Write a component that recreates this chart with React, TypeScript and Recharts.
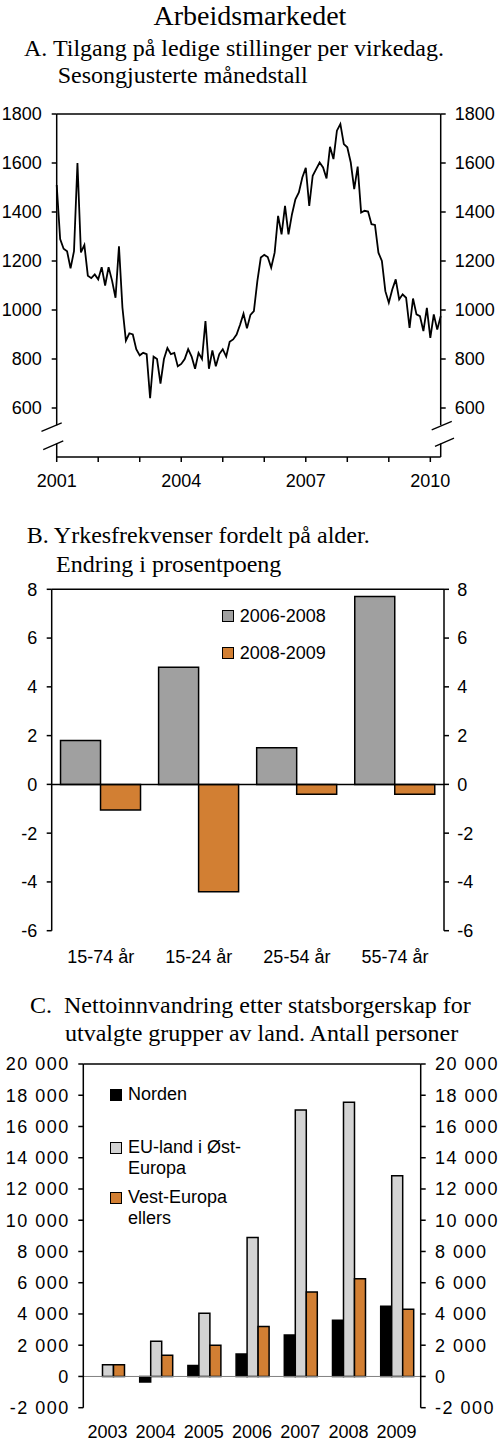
import React from "react"
import { Bar, BarChart, Legend, Line, LineChart, ReferenceLine, XAxis, YAxis } from "recharts"

// A. Tilgang på ledige stillinger per virkedag, jan 2001 - apr 2010
const stillinger = [
  1510, 1290, 1250, 1240, 1170, 1240, 1600, 1235, 1265, 1140, 1130, 1145,
  1125, 1175, 1100, 1175, 1120, 1050, 1260, 1010, 875, 905, 900, 840,
  815, 825, 820, 640, 810, 800, 700, 800, 845, 820, 825, 770,
  780, 800, 840, 810, 760, 825, 800, 955, 760, 835, 770, 820,
  840, 810, 870, 880, 900, 940, 985, 925, 980, 995, 1118, 1214,
  1225, 1216, 1173, 1234, 1384, 1309, 1425, 1309, 1390, 1452, 1480, 1541,
  1580, 1425, 1548, 1575, 1602, 1582, 1537, 1666, 1616, 1732, 1759, 1677,
  1664, 1602, 1493, 1585, 1398, 1405, 1402, 1350, 1347, 1234, 1200, 1077,
  1030, 1084, 1125, 1043, 1064, 1050, 927, 1047, 982, 975, 914, 1009,
  886, 982, 920, 975,
]
const maanedTicks = [0, 12, 24, 36, 48, 60, 72, 84, 96, 108]
const maanedLabels = ["2001", "", "", "2004", "", "", "2007", "", "", "2010"]
const tilgangTicks = [600, 800, 1000, 1200, 1400, 1600, 1800]

// B. Yrkesfrekvenser fordelt på alder
const alder = ["15-74 år", "15-24 år", "25-54 år", "55-74 år"]
const endring0608 = [1.8, 4.8, 1.5, 7.7]
const endring0809 = [-1.05, -4.4, -0.4, -0.4]
const prosentTicks = [-6, -4, -2, 0, 2, 4, 6, 8]
const periodeNavn = ["2006-2008", "2008-2009"]

// C. Nettoinnvandring etter statsborgerskap
const aar = ["2003", "2004", "2005", "2006", "2007", "2008", "2009"]
const norden = [0, -350, 700, 1430, 2650, 3600, 4500]
const euOst = [750, 2250, 4050, 8900, 17050, 17550, 12850]
const vestEuropa = [750, 1350, 2000, 3200, 5400, 6250, 4300]
const personTicks = [-2000, 0, 2000, 4000, 6000, 8000, 10000, 12000, 14000, 16000, 18000, 20000]
const gruppeNavn = ["Norden", "EU-land i Øst-Europa", "Vest-Europa ellers"]

const tilgangData = stillinger.map((v, i) => ({ t: i, v }))
const alderData = alder.map((a, i) => ({ alder: a, p1: endring0608[i], p2: endring0809[i] }))
const innvData = aar.map((a, i) => ({ aar: a, norden: norden[i], eu: euOst[i], vest: vestEuropa[i] }))

const sans = "'Liberation Sans', Arial, sans-serif"
const serif = "'Liberation Serif', 'Times New Roman', serif"
const tickStyle = { fill: "#000", fontSize: 18, fontFamily: sans }
const bredTick = { ...tickStyle, letterSpacing: 1.5 }
const GRA = "#a0a0a0"
const LYSGRA = "#d3d3d3"
const ORANSJE = "#d27f33"

const tusen = (v: number) => {
  const a = Math.abs(v)
  const s = a >= 1000 ? `${Math.floor(a / 1000)} ${String(a % 1000).padStart(3, "0")}` : String(a)
  return v < 0 ? `-${s}` : s
}

function Tittel({ left, baseline, size = 24, children, center = false }: any) {
  return (
    <div
      style={{
        position: "absolute",
        left: center ? 0 : left,
        width: center ? 500 : undefined,
        textAlign: center ? "center" : "left",
        top: baseline - size * 0.838,
        fontFamily: serif,
        fontSize: size,
        lineHeight: `${size}px`,
        whiteSpace: "pre",
        color: "#000",
      }}
    >
      {children}
    </div>
  )
}

function Forklaring({ payload, order, gaps, textWidth, squareTop }: any) {
  const items = [...(payload || [])].sort((a: any, b: any) => order.indexOf(a.value) - order.indexOf(b.value))
  return (
    <div style={{ position: "absolute", left: 0, top: 0, width: textWidth + 20, fontFamily: sans, fontSize: 18, color: "#000" }}>
      {items.map((p: any, i: number) => (
        <div key={p.value} style={{ display: "flex", alignItems: "flex-start", marginBottom: gaps[i] || 0 }}>
          <span
            style={{
              display: "inline-block",
              width: 12,
              height: 12,
              boxSizing: "border-box",
              border: "1.5px solid #000",
              background: p.color,
              marginTop: squareTop,
              marginRight: 6,
              flex: "none",
            }}
          />
          <span style={{ lineHeight: "21px", width: textWidth }}>{p.value}</span>
        </div>
      ))}
    </div>
  )
}

// axis break marks for panel A, in data units (month index, value)
const bruddVenstre = [
  [{ x: -4.4, y: 505 }, { x: 1.45, y: 539 }],
  [{ x: -3.9, y: 430 }, { x: 1.9, y: 466 }],
]
const bruddHoyre = [
  [{ x: 108.4, y: 511 }, { x: 114.2, y: 545 }],
  [{ x: 109.35, y: 443 }, { x: 114.85, y: 477 }],
]

export default function App() {
  return (
    <div style={{ position: "absolute", left: 0, top: 0, width: 500, height: 1445, background: "#fff", overflow: "hidden" }}>
      <Tittel center baseline={25} size={28}>Arbeidsmarkedet</Tittel>

      <Tittel left={24} baseline={56}>A. Tilgang på ledige stillinger per virkedag.</Tittel>
      <Tittel left={57.7} baseline={83.3}>Sesongjusterte månedstall</Tittel>

      <div style={{ position: "absolute", left: 0, top: 100 }}>
        <LineChart width={500} height={400} data={tilgangData} margin={{ top: 14, right: 0, bottom: 0, left: 0 }}>
          <XAxis
            dataKey="t"
            type="number"
            domain={[0, 111]}
            ticks={maanedTicks}
            interval={0}
            tickFormatter={(v) => maanedLabels[maanedTicks.indexOf(v)] ?? ""}
            tick={tickStyle}
            tickSize={5}
            tickMargin={12}
            height={43}
            stroke="#000"
            strokeWidth={1.5}
          />
          <YAxis
            yAxisId="v"
            domain={[400, 1800]}
            ticks={tilgangTicks}
            interval={0}
            width={56.7}
            tick={tickStyle}
            tickSize={5}
            tickMargin={10}
            axisLine={false}
            tickLine={{ stroke: "#000", strokeWidth: 1.5 }}
            allowDataOverflow
          />
          <YAxis
            yAxisId="h"
            orientation="right"
            domain={[400, 1800]}
            ticks={tilgangTicks}
            interval={0}
            width={59.3}
            tick={tickStyle}
            tickSize={5}
            tickMargin={9}
            axisLine={false}
            tickLine={{ stroke: "#000", strokeWidth: 1.5 }}
            allowDataOverflow
          />
          <ReferenceLine yAxisId="v" y={1800} stroke="#000" strokeWidth={1.5} />
          <ReferenceLine yAxisId="v" segment={[{ x: 0, y: 1800 }, { x: 0, y: 530 }]} stroke="#000" strokeWidth={1.5} ifOverflow="visible" />
          <ReferenceLine yAxisId="v" segment={[{ x: 0, y: 455 }, { x: 0, y: 400 }]} stroke="#000" strokeWidth={1.5} ifOverflow="visible" />
          <ReferenceLine yAxisId="v" segment={[{ x: 111, y: 1800 }, { x: 111, y: 530 }]} stroke="#000" strokeWidth={1.5} ifOverflow="visible" />
          <ReferenceLine yAxisId="v" segment={[{ x: 111, y: 455 }, { x: 111, y: 400 }]} stroke="#000" strokeWidth={1.5} ifOverflow="visible" />
          {[...bruddVenstre, ...bruddHoyre].map((s, i) => (
            <ReferenceLine key={i} yAxisId="v" segment={s} stroke="#000" strokeWidth={1.3} ifOverflow="visible" />
          ))}
          <Line yAxisId="v" dataKey="v" stroke="#000" strokeWidth={1.8} dot={false} isAnimationActive={false} />
        </LineChart>
      </div>

      <Tittel left={26.7} baseline={543.3}>B. Yrkesfrekvenser fordelt på alder.</Tittel>
      <Tittel left={56} baseline={571.7}>Endring i prosentpoeng</Tittel>

      <div style={{ position: "absolute", left: 0, top: 575 }}>
        <BarChart
          width={500}
          height={400}
          data={alderData}
          margin={{ top: 14.3, right: 0, bottom: 0, left: 0 }}
          barCategoryGap="9%"
          barGap={0}
        >
          <XAxis
            xAxisId="grense"
            type="number"
            domain={[0, 4]}
            ticks={[0, 1, 2, 3, 4]}
            tick={false}
            tickSize={5}
            height={0}
            stroke="#000"
            strokeWidth={1.5}
            allowDataOverflow
          />
          <XAxis
            xAxisId="kat"
            dataKey="alder"
            tick={tickStyle}
            tickLine={false}
            axisLine={false}
            tickSize={0}
            tickMargin={19.5}
            height={44.3}
            interval={0}
          />
          <YAxis
            yAxisId="v"
            domain={[-6, 8]}
            ticks={prosentTicks}
            interval={0}
            width={51.7}
            tick={tickStyle}
            tickSize={5}
            tickMargin={9.4}
            stroke="#000"
            strokeWidth={1.5}
            allowDataOverflow
          />
          <YAxis
            yAxisId="h"
            orientation="right"
            domain={[-6, 8]}
            ticks={prosentTicks}
            interval={0}
            width={56}
            tick={tickStyle}
            tickSize={5}
            tickMargin={8.3}
            stroke="#000"
            strokeWidth={1.5}
            allowDataOverflow
          />
          <ReferenceLine xAxisId="kat" yAxisId="v" y={8} stroke="#000" strokeWidth={1.5} />
          <Bar xAxisId="kat" yAxisId="v" dataKey="p1" name={periodeNavn[0]} fill={GRA} stroke="#000" strokeWidth={1.5} isAnimationActive={false} />
          <Bar xAxisId="kat" yAxisId="v" dataKey="p2" name={periodeNavn[1]} fill={ORANSJE} stroke="#000" strokeWidth={1.5} isAnimationActive={false} />
          <ReferenceLine xAxisId="kat" yAxisId="v" y={0} stroke="#000" strokeWidth={1.5} />
          <Legend
            layout="vertical"
            align="center"
            verticalAlign="top"
            wrapperStyle={{ left: 221.7, top: 31, width: 0, height: 0, overflow: "visible" }}
            content={(props: any) => (
              <Forklaring payload={props.payload} order={periodeNavn} gaps={[16.3, 0]} textWidth={140} squareTop={4} />
            )}
          />
        </BarChart>
      </div>

      <Tittel left={30} baseline={1013.3}>C.  Nettoinnvandring etter statsborgerskap for</Tittel>
      <Tittel left={65} baseline={1041}>utvalgte grupper av land. Antall personer</Tittel>

      <div style={{ position: "absolute", left: 0, top: 1050 }}>
        <BarChart
          width={500}
          height={395}
          data={innvData}
          margin={{ top: 14, right: 0, bottom: 0, left: 0 }}
          barCategoryGap="17%"
          barGap={0}
        >
          <XAxis
            xAxisId="grense"
            type="number"
            domain={[0, 7]}
            ticks={[0, 1, 2, 3, 4, 5, 6, 7]}
            tick={false}
            tickSize={5}
            height={0}
            stroke="#000"
            strokeWidth={1.5}
            allowDataOverflow
          />
          <XAxis
            xAxisId="kat"
            dataKey="aar"
            tick={tickStyle}
            tickLine={false}
            axisLine={false}
            tickSize={0}
            tickMargin={17.8}
            height={37.3}
            interval={0}
          />
          <YAxis
            yAxisId="v"
            domain={[-2000, 20000]}
            ticks={personTicks}
            interval={0}
            width={83.3}
            tick={bredTick}
            tickFormatter={tusen}
            tickSize={5}
            tickMargin={8.5}
            stroke="#000"
            strokeWidth={1.5}
            allowDataOverflow
          />
          <YAxis
            yAxisId="h"
            orientation="right"
            domain={[-2000, 20000]}
            ticks={personTicks}
            interval={0}
            width={79.3}
            tick={bredTick}
            tickFormatter={tusen}
            tickSize={5}
            tickMargin={9.3}
            stroke="#000"
            strokeWidth={1.5}
            allowDataOverflow
          />
          <ReferenceLine xAxisId="kat" yAxisId="v" y={20000} stroke="#000" strokeWidth={1.5} />
          <Bar xAxisId="kat" yAxisId="v" dataKey="norden" name={gruppeNavn[0]} fill="#000" stroke="#000" strokeWidth={1.5} isAnimationActive={false} />
          <Bar xAxisId="kat" yAxisId="v" dataKey="eu" name={gruppeNavn[1]} fill={LYSGRA} stroke="#000" strokeWidth={1.5} isAnimationActive={false} />
          <Bar xAxisId="kat" yAxisId="v" dataKey="vest" name={gruppeNavn[2]} fill={ORANSJE} stroke="#000" strokeWidth={1.5} isAnimationActive={false} />
          <ReferenceLine xAxisId="kat" yAxisId="v" y={0} stroke="#808080" strokeWidth={1} />
          <Legend
            layout="vertical"
            align="center"
            verticalAlign="top"
            wrapperStyle={{ left: 110, top: 34, width: 0, height: 0, overflow: "visible" }}
            content={(props: any) => (
              <Forklaring payload={props.payload} order={gruppeNavn} gaps={[31.6, 8, 0]} textWidth={118} squareTop={5} />
            )}
          />
        </BarChart>
      </div>
    </div>
  )
}
